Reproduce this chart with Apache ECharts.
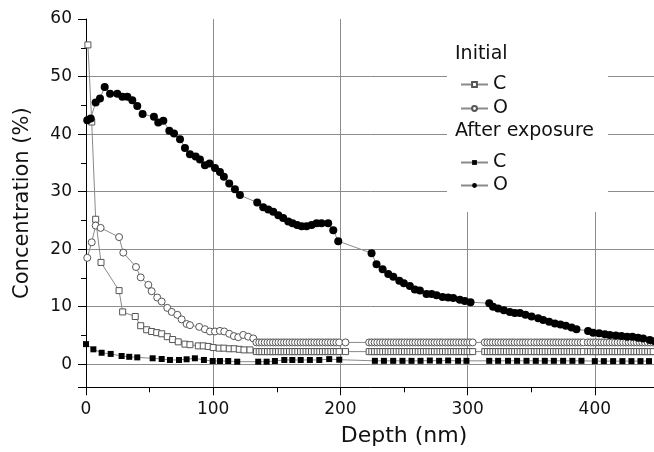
<!DOCTYPE html>
<html><head><meta charset="utf-8">
<script src="https://cdn.jsdelivr.net/npm/echarts@6/dist/echarts.min.js"></script>
<style>html,body{margin:0;padding:0;background:#fff}#c{width:654px;height:452px}</style>
</head><body><div id="c"></div>
<script>
// ---- data (depth nm, concentration %) ----
const xTickLabels = [0, 100, 200, 300, 400];
const yTickLabels = [0, 10, 20, 30, 40, 50, 60];
const seriesNames = ['Initial C', 'Initial O', 'After exposure C', 'After exposure O'];

const initialC = [[1.5,55.5],[4.5,42.1],[7.6,25.2],[11.8,17.7],[26,12.8],[28.8,9.1],[38.7,8.3],[43,6.7],[47.7,6.0],[51.6,5.7],[55.6,5.5],[59.5,5.3],[63.9,4.8],[68.1,4.3],[72.5,3.9],[77.8,3.5],[81.7,3.4],[88.3,3.2],[92.2,3.2],[96.1,3.1],[100,2.9],[104.7,2.8],[108.4,2.8],[112.6,2.7],[116.5,2.7],[120.5,2.6],[124.2,2.5],[128.9,2.5]];

const initialO = [[1,18.5],[4.5,21.2],[7.6,24.1],[11.5,23.7],[26,22.1],[29.3,19.4],[39.3,16.9],[43,15.1],[49,13.8],[51.6,12.7],[56,11.6],[59.5,10.9],[63.9,9.8],[67.4,9.1],[71.8,8.6],[75.2,7.8],[79.1,7.0],[81.7,6.8],[89,6.5],[93.5,6.1],[97.4,5.7],[101.4,5.7],[105.3,5.8],[108.7,5.7],[112.6,5.3],[116.3,4.9],[119.7,4.7],[123.6,5.1],[127.5,4.8],[131.5,4.5]];

// plateau rows of the initial profile: [depth, O, C]
const initialPlateau = [
[134.0,3.8,2.2],[136.2,3.8,2.2],[138.3,3.8,2.2],[140.5,3.8,2.2],[142.7,3.8,2.2],[144.8,3.8,2.2],[147.0,3.8,2.2],[149.2,3.8,2.2],[151.3,3.8,2.2],[153.5,3.8,2.2],
[155.7,3.8,2.2],[157.8,3.8,2.2],[160.0,3.8,2.2],[162.2,3.8,2.2],[164.3,3.8,2.2],[166.5,3.8,2.2],[168.7,3.8,2.2],[170.8,3.8,2.2],[173.0,3.8,2.2],[175.2,3.8,2.2],
[177.3,3.8,2.2],[179.5,3.8,2.2],[181.7,3.8,2.2],[183.8,3.8,2.2],[186.0,3.8,2.2],[188.2,3.8,2.2],[190.3,3.8,2.2],[192.5,3.8,2.2],[194.7,3.8,2.2],[196.8,3.8,2.2],
[199.0,3.8,2.2],[204.0,3.8,2.2],
[222.6,3.8,2.2],[224.7,3.8,2.2],[226.9,3.8,2.2],[229.0,3.8,2.2],[231.2,3.8,2.2],[233.3,3.8,2.2],[235.5,3.8,2.2],[237.6,3.8,2.2],[239.7,3.8,2.2],[241.9,3.8,2.2],
[244.0,3.8,2.2],[246.2,3.8,2.2],[248.3,3.8,2.2],[250.4,3.8,2.2],[252.6,3.8,2.2],[254.7,3.8,2.2],[256.9,3.8,2.2],[259.0,3.8,2.2],[261.2,3.8,2.2],[263.3,3.8,2.2],
[265.4,3.8,2.2],[267.6,3.8,2.2],[269.7,3.8,2.2],[271.9,3.8,2.2],[274.0,3.8,2.2],[276.1,3.8,2.2],[278.3,3.8,2.2],[280.4,3.8,2.2],[282.6,3.8,2.2],[284.7,3.8,2.2],
[286.9,3.8,2.2],[289.0,3.8,2.2],[291.1,3.8,2.2],[293.3,3.8,2.2],[295.4,3.8,2.2],[297.6,3.8,2.2],[299.7,3.8,2.2],[301.8,3.8,2.2],[304.0,3.8,2.2],
[313.5,3.8,2.2],[315.6,3.8,2.2],[317.8,3.8,2.2],[319.9,3.8,2.2],[322.1,3.8,2.2],[324.2,3.8,2.2],[326.3,3.8,2.2],[328.5,3.8,2.2],[330.6,3.8,2.2],[332.8,3.8,2.2],
[334.9,3.8,2.2],[337.0,3.8,2.2],[339.2,3.8,2.2],[341.3,3.8,2.2],[343.5,3.8,2.2],[345.6,3.8,2.2],[347.7,3.8,2.2],[349.9,3.8,2.2],[352.5,3.8,2.2],[354.6,3.8,2.2],
[356.8,3.8,2.2],[358.9,3.8,2.2],[361.0,3.8,2.2],[363.2,3.8,2.2],[365.3,3.8,2.2],[367.5,3.8,2.2],[369.6,3.8,2.2],[371.7,3.8,2.2],[373.9,3.8,2.2],[376.0,3.8,2.2],
[378.2,3.8,2.2],[380.3,3.8,2.2],[382.4,3.8,2.2],[384.6,3.8,2.2],[386.7,3.8,2.2],[388.9,3.8,2.2],[391.0,3.8,2.2],
[394.5,3.8,2.2],[396.6,3.8,2.2],[398.8,3.8,2.2],[400.9,3.8,2.2],[403.1,3.8,2.2],[405.2,3.8,2.2],[407.3,3.8,2.2],[409.5,3.8,2.2],[411.6,3.8,2.2],[413.8,3.8,2.2],
[415.9,3.8,2.2],[418.0,3.8,2.2],[420.2,3.8,2.2],[422.3,3.8,2.2],[424.5,3.8,2.2],[426.6,3.8,2.2],[428.7,3.8,2.2],[430.9,3.8,2.2],[433.0,3.8,2.2],[435.2,3.8,2.2],
[437.3,3.8,2.2],[439.4,3.8,2.2],[441.6,3.8,2.2],[443.7,3.8,2.2],[445.9,3.8,2.2]
];

const afterC = [[0,3.5],[5.8,2.6],[12.3,2.0],[19.4,1.8],[28,1.44],[34,1.3],[40.3,1.2],[52.4,1.04],[59.5,0.92],[66,0.75],[73.1,0.75],[79.1,0.87],[85.6,1.04],[92.7,0.75],[99.6,0.57],[105.3,0.57],[111.8,0.57],[118.9,0.45],[135.4,0.45],[142,0.45],[148.5,0.57],[155.9,0.75],[162.2,0.75],[168.8,0.75],[176,0.75],[183.4,0.75],[191.2,0.9],[199.1,0.8],
[227.1,0.6],[234.2,0.6],[241.5,0.6],[248.8,0.6],[255.9,0.6],[263,0.6],[270.3,0.65],[277.6,0.6],[284.7,0.65],[292.5,0.6],[299.1,0.6],
[317,0.6],[324,0.6],[331.8,0.6],[338.9,0.6],[346.3,0.6],[353.6,0.6],[360.7,0.6],[367.8,0.6],[375.1,0.6],[382.4,0.6],[389.5,0.6],
[400,0.55],[407.1,0.55],[414.4,0.55],[421.7,0.55],[428.8,0.55],[435.9,0.55],[442.6,0.55]];

const afterO = [[1,42.4],[3.7,42.7],[7.6,45.5],[11,46.2],[14.7,48.2],[18.9,47.0],[24.6,47.0],[28.6,46.5],[32.5,46.5],[36.4,45.9],[40.3,44.9],[44.5,43.5],[53.4,43.0],[56.8,42.0],[60.8,42.3],[65.5,40.6],[69.2,40.1],[73.9,39.1],[77.8,37.6],[81.7,36.5],[86.2,36.1],[89.6,35.6],[93.5,34.6],[97.2,34.9],[101.4,34.1],[105.3,33.4],[108.4,32.6],[112.6,31.4],[117.1,30.4],[121,29.4],
[134.6,28.1],[139.3,27.3],[143.3,26.9],[147.2,26.5],[151.2,25.9],[155,25.4],[159,24.8],[162.4,24.5],[166,24.2],[169.5,24.0],[173.4,24.0],[177.4,24.2],[181.3,24.5],[185.2,24.5],[190.4,24.5],[194.4,23.3],[198.3,21.4],
[224.5,19.3],[228.4,17.4],[233.2,16.5],[237.6,15.7],[241.6,15.2],[246.3,14.5],[249.9,14.1],[254.6,13.6],[258.5,13.0],[262.5,12.8],[267.7,12.2],[271.7,12.2],[275.6,12.0],[280.3,11.7],[284.7,11.6],[288.7,11.5],[293.9,11.2],[297.8,11.0],[302.3,10.8],
[317,10.6],[320,10.0],[324,9.7],[328.5,9.4],[333.2,9.1],[337.1,8.9],[341.1,8.9],[345.5,8.6],[350.3,8.3],[355.5,8.0],[359.4,7.7],[364.1,7.4],[368.6,7.1],[373,6.9],[377.2,6.7],[381.7,6.4],[385.6,6.1],
[394.7,5.8],[398.7,5.5],[403.4,5.4],[407.9,5.2],[411.8,5.1],[416.5,5.0],[421,4.9],[425.4,4.8],[429.6,4.8],[434,4.6],[438,4.5],[443.2,4.2],[447,4.0]];

// ---- chart ----
const FONT = 'DejaVu Sans';
const initialCData = initialC.concat(initialPlateau.map(r => [r[0], r[2]]));
const initialOData = initialO.concat(initialPlateau.map(r => [r[0], r[1]]));

const chart = echarts.init(document.getElementById('c'), null, {renderer: 'canvas'});
const lineGray = '#8a8a8a';
const axisCommon = {
  axisLine: {show: true, onZero: false, lineStyle: {color: '#000', width: 1}},
  axisTick: {show: true, inside: false, length: 8, lineStyle: {color: '#000'}},
  minorTick: {show: true, splitNumber: 2, length: 5, lineStyle: {color: '#000'}},
  splitLine: {show: true, showMinLine: false, showMaxLine: false, lineStyle: {color: '#8c8c8c', width: 1}},
  minorSplitLine: {show: false}
};
chart.setOption({
  animation: false,
  backgroundColor: '#fff',
  grid: {left: 86, top: 19, width: 636, height: 368.3, containLabel: false, outerBoundsMode: 'none'},
  xAxis: Object.assign({}, axisCommon, {
    type: 'value', min: 0, max: 500, interval: 100,
    name: 'Depth (nm)', nameLocation: 'middle', nameGap: 38,
    nameTextStyle: {fontFamily: FONT, fontSize: 22, color: '#111'},
    axisLabel: {fontFamily: FONT, fontSize: 17, color: '#111', margin: 14,
      formatter: v => xTickLabels.includes(v) ? String(v) : ''}
  }),
  yAxis: Object.assign({}, axisCommon, {
    type: 'value', min: -4, max: 60, splitNumber: 7,
    name: 'Concentration (%)', nameLocation: 'middle', nameGap: 53,
    nameTextStyle: {fontFamily: FONT, fontSize: 21, color: '#111'},
    axisLabel: {fontFamily: FONT, fontSize: 17, color: '#111', margin: 14, showMinLabel: false,
      formatter: v => yTickLabels.includes(v) ? String(v) : ''}
  }),
  legend: [{
    orient: 'vertical', left: 455, top: 70, itemGap: 5, itemWidth: 27, itemHeight: 6,
    data: [seriesNames[0], seriesNames[1]],
    formatter: n => n.slice(-1),
    textStyle: {fontFamily: FONT, fontSize: 19, color: '#111'}
  }, {
    orient: 'vertical', left: 455, top: 148, itemGap: 4, itemWidth: 27, itemHeight: 6,
    data: [seriesNames[2], seriesNames[3]],
    formatter: n => n.slice(-1),
    textStyle: {fontFamily: FONT, fontSize: 19, color: '#111'}
  }],
  graphic: {elements: [
    {type: 'rect', left: 447, top: 19, shape: {width: 161, height: 193}, style: {fill: '#fff'}, z: 1, silent: true},
    {type: 'text', left: 455, top: 45, style: {text: 'Initial', font: '19px "DejaVu Sans"', fill: '#111'}, z: 5},
    {type: 'text', left: 455, top: 122, style: {text: 'After exposure', font: '19px "DejaVu Sans"', fill: '#111'}, z: 5}
  ]},
  series: [
    {name: seriesNames[0], type: 'line', data: initialCData, symbol: 'rect', symbolSize: 6, showAllSymbol: true,
      lineStyle: {color: lineGray, width: 1}, itemStyle: {color: '#fff', borderColor: '#555', borderWidth: 1}, z: 2},
    {name: seriesNames[1], type: 'line', data: initialOData, symbol: 'circle', symbolSize: 7, showAllSymbol: true,
      lineStyle: {color: lineGray, width: 1}, itemStyle: {color: '#fff', borderColor: '#555', borderWidth: 1}, z: 2},
    {name: seriesNames[2], type: 'line', data: afterC, symbol: 'rect', symbolSize: 6, showAllSymbol: true,
      lineStyle: {color: lineGray, width: 1}, itemStyle: {color: '#000', borderColor: '#000', borderWidth: 0}, z: 3},
    {name: seriesNames[3], type: 'line', data: afterO, symbol: 'circle', symbolSize: 8, showAllSymbol: true,
      lineStyle: {color: lineGray, width: 1}, itemStyle: {color: '#000', borderColor: '#000', borderWidth: 0}, z: 3}
  ]
});
</script></body></html>
